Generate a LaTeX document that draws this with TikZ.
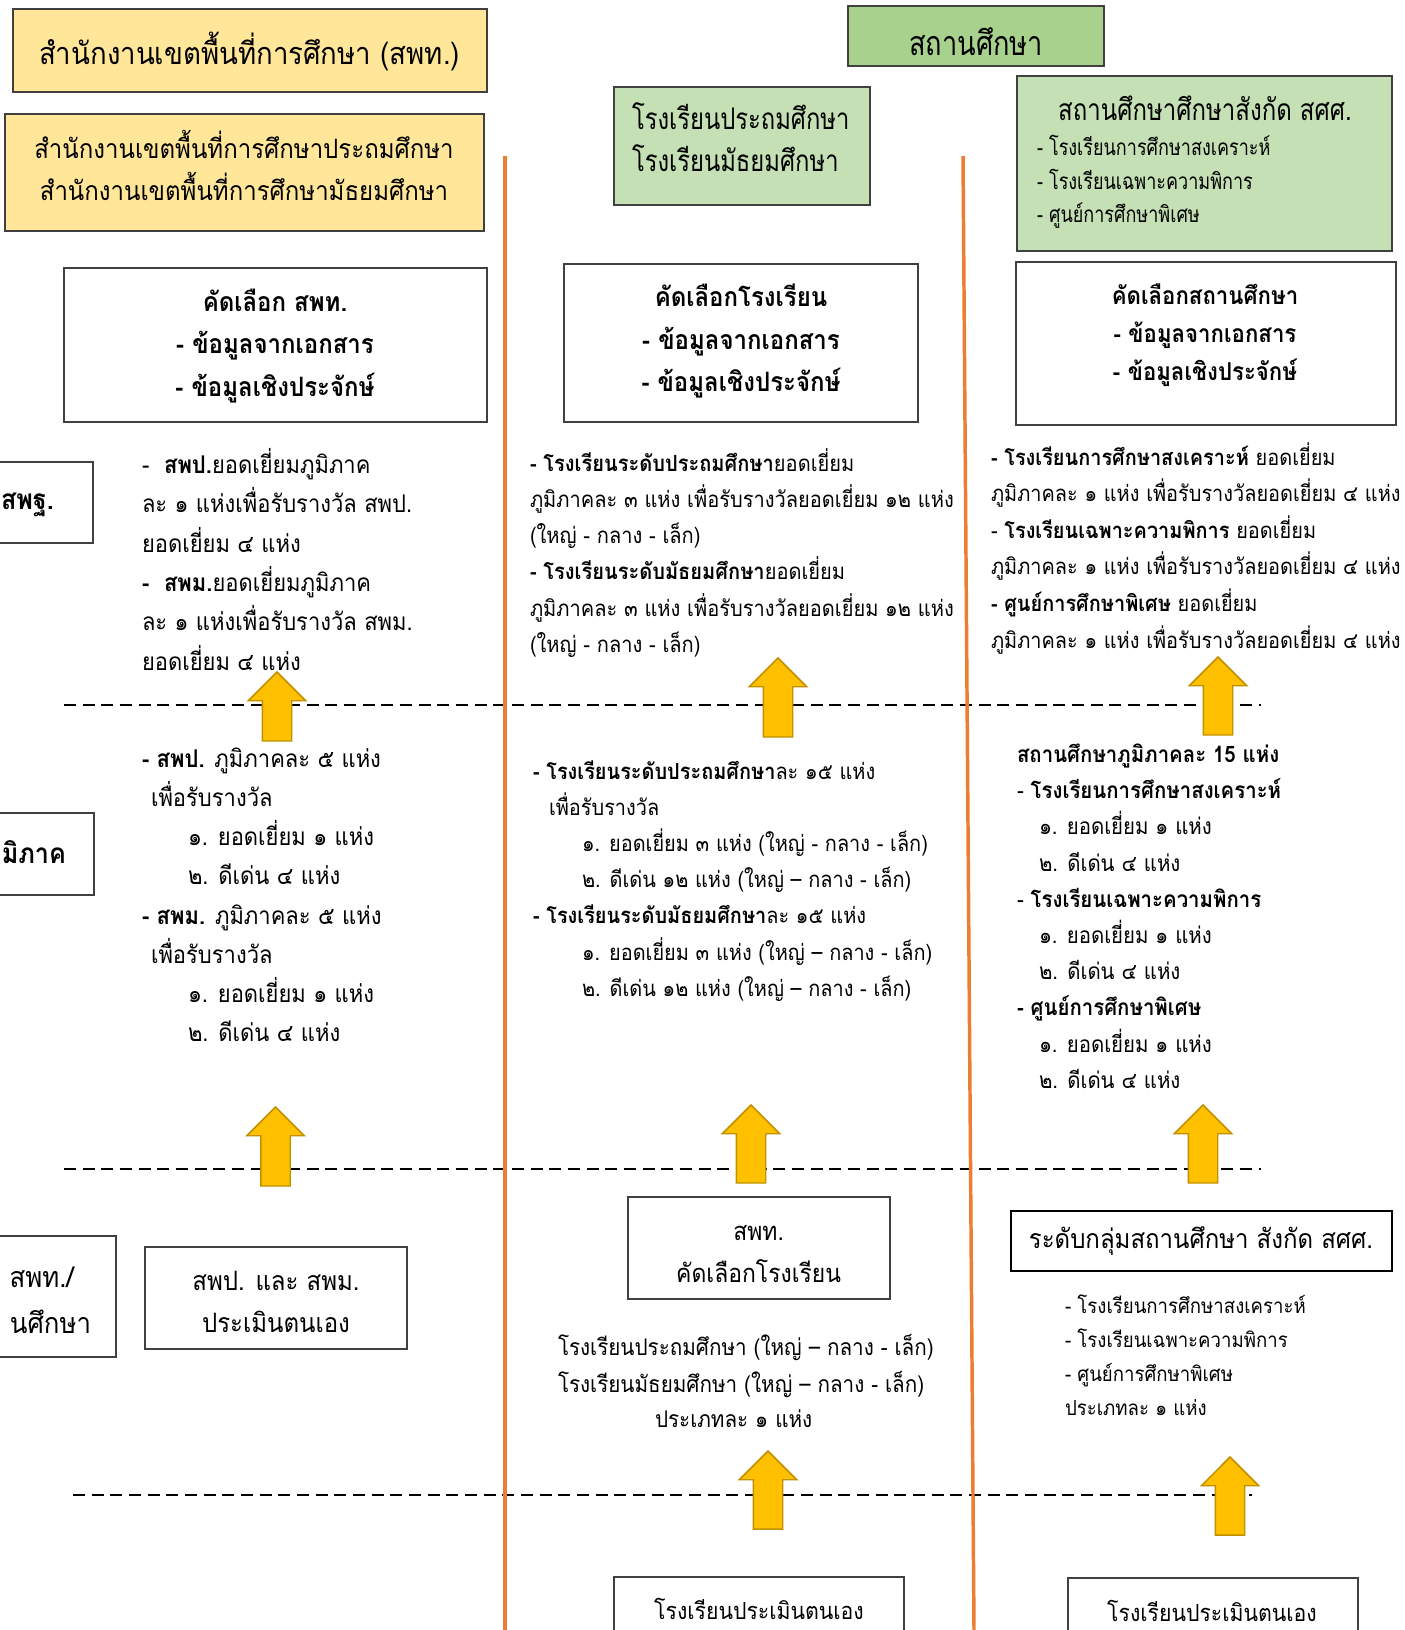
\documentclass[tikz,border=0pt]{standalone}
\usepackage{fontspec}
\setmainfont[Script=Thai,FakeStretch=0.9]{Loma}
\newfontfamily\narrowfont[Script=Thai,FakeStretch=0.8]{Loma}
\usetikzlibrary{positioning, shapes.arrows, fit}

\definecolor{paleyellow}{HTML}{FFE699}
\definecolor{midgreen}{HTML}{A9D18E}
\definecolor{palegreen}{HTML}{C5E0B4}
\definecolor{laneorange}{HTML}{ED7D31}
\definecolor{arrowfill}{HTML}{FFC000}
\definecolor{arrowdraw}{HTML}{BF9000}
\definecolor{darkedge}{HTML}{404040}

\newcommand{\tsize}[2]{\fontsize{#1}{#2}\selectfont}

\begin{document}
\begin{tikzpicture}[x=0.75pt, y=-0.75pt,
    every node/.style={inner sep=0pt, outer sep=0pt},
    box/.style={draw=darkedge, line width=1pt},
    yellowbox/.style={box, fill=paleyellow},
    greenbox/.style={box, fill=#1},
    boxtext/.style={align=center},
    txt/.style={anchor=base west},
    upblock/.style={single arrow, draw=arrowdraw, fill=arrowfill, line width=1.1pt,
        rotate=90, anchor=tail, inner xsep=0pt, inner ysep=10.5pt, single arrow head extend=10.5pt,
        minimum height=#1*0.75pt},
    lane/.style={draw=laneorange, line width=2.6pt},
    stage/.style={dash pattern=on 9pt off 5pt, line width=0.9pt}
  ]
  \useasboundingbox (0,0) rectangle (1405,1630);
  \clip (0,0) rectangle (1405,1630);

  % stage separators and lanes
  \draw[stage] (64,705) -- (1261,705);
  \draw[stage] (64,1169) -- (1261,1169);
  \draw[stage] (73,1495) -- (1252,1495);
  \draw[lane] (505,156) -- (505,1630);
  \draw[lane] (963,156) -- (974,1630);

  % headers
  \node[yellowbox, fit={(13,9) (487,92)}] (areaOffice) {};
  \node[boxtext, font=\tsize{23}{32}] (areaOfficeText) at (249.5,51) {สำนักงานเขตพื้นที่การศึกษา (สพท.)};
  \node[yellowbox, fit={(5,114) (484,231)}] (areaPair) {};
  \node[boxtext, font=\tsize{20}{31.5}] (areaPairText) at (244,165) {สำนักงานเขตพื้นที่การศึกษาประถมศึกษา\\สำนักงานเขตพื้นที่การศึกษามัธยมศึกษา};
  \node[greenbox=midgreen, fit={(848,6) (1104,66)}] (schoolHead) {};
  \node[boxtext, font=\narrowfont\tsize{25.5}{30}] (schoolHeadText) at (976,42) {สถานศึกษา};
  \node[greenbox=palegreen, fit={(614,87) (870,205)}] (schoolPair) {};
  \node[txt, font=\narrowfont\tsize{22.3}{30}] (schoolP) at (632,130) {โรงเรียนประถมศึกษา};
  \node[txt, font=\narrowfont\tsize{22.3}{30}] (schoolM) at (632,172) {โรงเรียนมัธยมศึกษา};
  \node[greenbox=palegreen, fit={(1017,76) (1392,251)}] (specialBox) {};
  \node[font=\narrowfont\tsize{22.5}{30}] (specialHead) at (1205,108) {สถานศึกษาศึกษาสังกัด สศศ.};
  \foreach \txt [count=\i from 0] in {โรงเรียนการศึกษาสงเคราะห์, โรงเรียนเฉพาะความพิการ, ศูนย์การศึกษาพิเศษ}
    \node[txt, font=\narrowfont\tsize{16.9}{20}] (specialItem\i) at (1037,156+33.3*\i) {- \txt};

  % selection boxes
  \node[box, fit={(64,268) (487,422)}] (selArea) {};
  \node[boxtext, font=\bfseries\tsize{20}{32}] (selAreaText) at (275,346) {คัดเลือก สพท.\\- ข้อมูลจากเอกสาร\\- ข้อมูลเชิงประจักษ์};
  \node[box, fit={(564,264) (918,422)}] (selSchool) {};
  \node[boxtext, font=\bfseries\tsize{20}{32}] (selSchoolText) at (741,341) {คัดเลือกโรงเรียน\\- ข้อมูลจากเอกสาร\\- ข้อมูลเชิงประจักษ์};
  \node[box, fit={(1016,262) (1396,425)}] (selSpecial) {};
  \node[boxtext, font=\bfseries\tsize{18.5}{28.5}] (selSpecialText) at (1205,335) {คัดเลือกสถานศึกษา\\- ข้อมูลจากเอกสาร\\- ข้อมูลเชิงประจักษ์};

  % boxes cut at the left edge
  \node[box, fit={(-20,462) (93,543)}] (cutNational) {};
  \node[anchor=east, font=\bfseries\tsize{21}{30}] (cutNationalText) at (54,505) {สพฐ.};
  \node[box, fit={(-20,813) (94,895)}] (cutRegion) {};
  \node[anchor=east, font=\bfseries\tsize{21}{30}] (cutRegionText) at (66,852) {มิภาค};
  \node[box, fit={(-20,1236) (116,1357)}] (cutArea) {};
  \node[anchor=east, font=\tsize{21.5}{30}] (cutAreaTextA) at (74,1277) {สพท./};
  \node[anchor=east, font=\tsize{21.5}{30}] (cutAreaTextB) at (91,1322) {นศึกษา};

  % national level results
  \foreach \txt [count=\i from 0] in {{-\ \ \textbf{สพป.}ยอดเยี่ยมภูมิภาค}, {ละ ๑ แห่งเพื่อรับรางวัล สพป.}, {ยอดเยี่ยม ๔ แห่ง},
      {\textbf{-\ \ สพม.}ยอดเยี่ยมภูมิภาค}, {ละ ๑ แห่งเพื่อรับรางวัล สพม.}, {ยอดเยี่ยม ๔ แห่ง}}
    \node[txt, font=\tsize{18.3}{24}] (areaTop\i) at (142,473.5+39.3*\i) {\txt};
  \foreach \txt [count=\i from 0] in {{\textbf{- โรงเรียนระดับประถมศึกษา}ยอดเยี่ยม}, {ภูมิภาคละ ๓ แห่ง เพื่อรับรางวัลยอดเยี่ยม ๑๒ แห่ง}, {(ใหญ่ - กลาง - เล็ก)},
      {\textbf{- โรงเรียนระดับมัธยมศึกษา}ยอดเยี่ยม}, {ภูมิภาคละ ๓ แห่ง เพื่อรับรางวัลยอดเยี่ยม ๑๒ แห่ง}, {(ใหญ่ - กลาง - เล็ก)}}
    \node[txt, font=\tsize{16.7}{24}] (schoolTop\i) at (530,471+36.3*\i) {\txt};
  \foreach \txt [count=\i from 0] in {{\textbf{- โรงเรียนการศึกษาสงเคราะห์} ยอดเยี่ยม}, {ภูมิภาคละ ๑ แห่ง เพื่อรับรางวัลยอดเยี่ยม ๔ แห่ง},
      {- \textbf{โรงเรียนเฉพาะความพิการ} ยอดเยี่ยม}, {ภูมิภาคละ ๑ แห่ง เพื่อรับรางวัลยอดเยี่ยม ๔ แห่ง},
      {\textbf{- ศูนย์การศึกษาพิเศษ} ยอดเยี่ยม}, {ภูมิภาคละ ๑ แห่ง เพื่อรับรางวัลยอดเยี่ยม ๔ แห่ง}}
    \node[txt, font=\tsize{16.6}{24}] (specialTop\i) at (991,465+36.6*\i) {\txt};

  % regional level results
  \foreach \xx/\txt [count=\i from 0] in {142/{\textbf{- สพป.} ภูมิภาคละ ๕ แห่ง}, 151/{เพื่อรับรางวัล}, 188/{๑. ยอดเยี่ยม ๑ แห่ง}, 188/{๒. ดีเด่น ๔ แห่ง},
      142/{\textbf{- สพม.} ภูมิภาคละ ๕ แห่ง}, 151/{เพื่อรับรางวัล}, 188/{๑. ยอดเยี่ยม ๑ แห่ง}, 188/{๒. ดีเด่น ๔ แห่ง}}
    \node[txt, font=\tsize{18.3}{24}] (areaMid\i) at (\xx,767.6+39.1*\i) {\txt};
  \foreach \xx/\txt [count=\i from 0] in {533/{\textbf{- โรงเรียนระดับประถมศึกษา}ละ ๑๕ แห่ง}, 549/{เพื่อรับรางวัล},
      582/{๑. ยอดเยี่ยม ๓ แห่ง (ใหญ่ - กลาง - เล็ก)}, 582/{๒. ดีเด่น ๑๒ แห่ง (ใหญ่ – กลาง - เล็ก)},
      533/{\textbf{- โรงเรียนระดับมัธยมศึกษา}ละ ๑๕ แห่ง}, 582/{๑. ยอดเยี่ยม ๓ แห่ง (ใหญ่ – กลาง - เล็ก)},
      582/{๒. ดีเด่น ๑๒ แห่ง (ใหญ่ – กลาง - เล็ก)}}
    \node[txt, font=\tsize{16.6}{24}] (schoolMid\i) at (\xx,779+36.2*\i) {\txt};
  \foreach \xx/\txt [count=\i from 0] in {1017/{\textbf{สถานศึกษาภูมิภาคละ 15 แห่ง}}, 1017/{- \textbf{โรงเรียนการศึกษาสงเคราะห์}},
      1039/{๑. ยอดเยี่ยม ๑ แห่ง}, 1039/{๒. ดีเด่น ๔ แห่ง}, 1017/{- \textbf{โรงเรียนเฉพาะความพิการ}},
      1039/{๑. ยอดเยี่ยม ๑ แห่ง}, 1039/{๒. ดีเด่น ๔ แห่ง}, 1017/{\textbf{- ศูนย์การศึกษาพิเศษ}},
      1039/{๑. ยอดเยี่ยม ๑ แห่ง}, 1039/{๒. ดีเด่น ๔ แห่ง}}
    \node[txt, font=\tsize{17}{24}] (specialMid\i) at (\xx,762.5+36.2*\i) {\txt};

  % area level
  \node[box, fit={(145,1247) (407,1349)}] (selfArea) {};
  \node[boxtext, font=\tsize{20}{31}] (selfAreaText) at (276,1302) {สพป. และ สพม.\\ประเมินตนเอง};
  \node[box, fit={(628,1197) (890,1299)}] (pickSchool) {};
  \node[boxtext, font=\tsize{19.1}{31.5}] (pickSchoolText) at (758.6,1254) {สพท.\\คัดเลือกโรงเรียน};
  \node[box, draw=black, line width=1.8pt, fit={(1011,1211) (1392,1271)}] (groupSpecial) {};
  \node[boxtext, font=\tsize{20}{30}] (groupSpecialText) at (1201,1241) {ระดับกลุ่มสถานศึกษา สังกัด สศศ.};
  \node[txt, font=\tsize{17.2}{24}] (pickP) at (558,1355) {โรงเรียนประถมศึกษา (ใหญ่ – กลาง - เล็ก)};
  \node[txt, font=\tsize{17.2}{24}] (pickM) at (558,1392) {โรงเรียนมัธยมศึกษา (ใหญ่ – กลาง - เล็ก)};
  \node[txt, font=\tsize{17.2}{24}] (pickEach) at (655,1427) {ประเภทละ ๑ แห่ง};
  \foreach \txt [count=\i from 0] in {{- โรงเรียนการศึกษาสงเคราะห์}, {- โรงเรียนเฉพาะความพิการ}, {- ศูนย์การศึกษาพิเศษ}, {ประเภทละ ๑ แห่ง}}
    \node[txt, font=\tsize{15.5}{24}] (groupItem\i) at (1065,1313+34*\i) {\txt};

  % self assessment
  \node[box, fit={(614,1577) (904,1660)}] (selfSchool) {};
  \node[boxtext, font=\tsize{17.7}{28}] (selfSchoolText) at (759,1608.5) {โรงเรียนประเมินตนเอง};
  \node[box, fit={(1068,1578) (1358,1660)}] (selfSpecial) {};
  \node[boxtext, font=\tsize{17.7}{28}] (selfSpecialText) at (1212,1611) {โรงเรียนประเมินตนเอง};

  % upward arrows, placed by their tails
  \foreach \nm/\xx/\yy/\len in {upArea1/277/741/69, upSchool1/778/737/79, upSpecial1/1218/735/78,
      upArea2/275.5/1186/79, upSchool2/751/1183/78, upSpecial2/1203/1183/78,
      upSchool3/768/1529/78, upSpecial3/1230/1535/78}
    \node[upblock=\len] (\nm) at (\xx,\yy) {};
\end{tikzpicture}
\end{document}
